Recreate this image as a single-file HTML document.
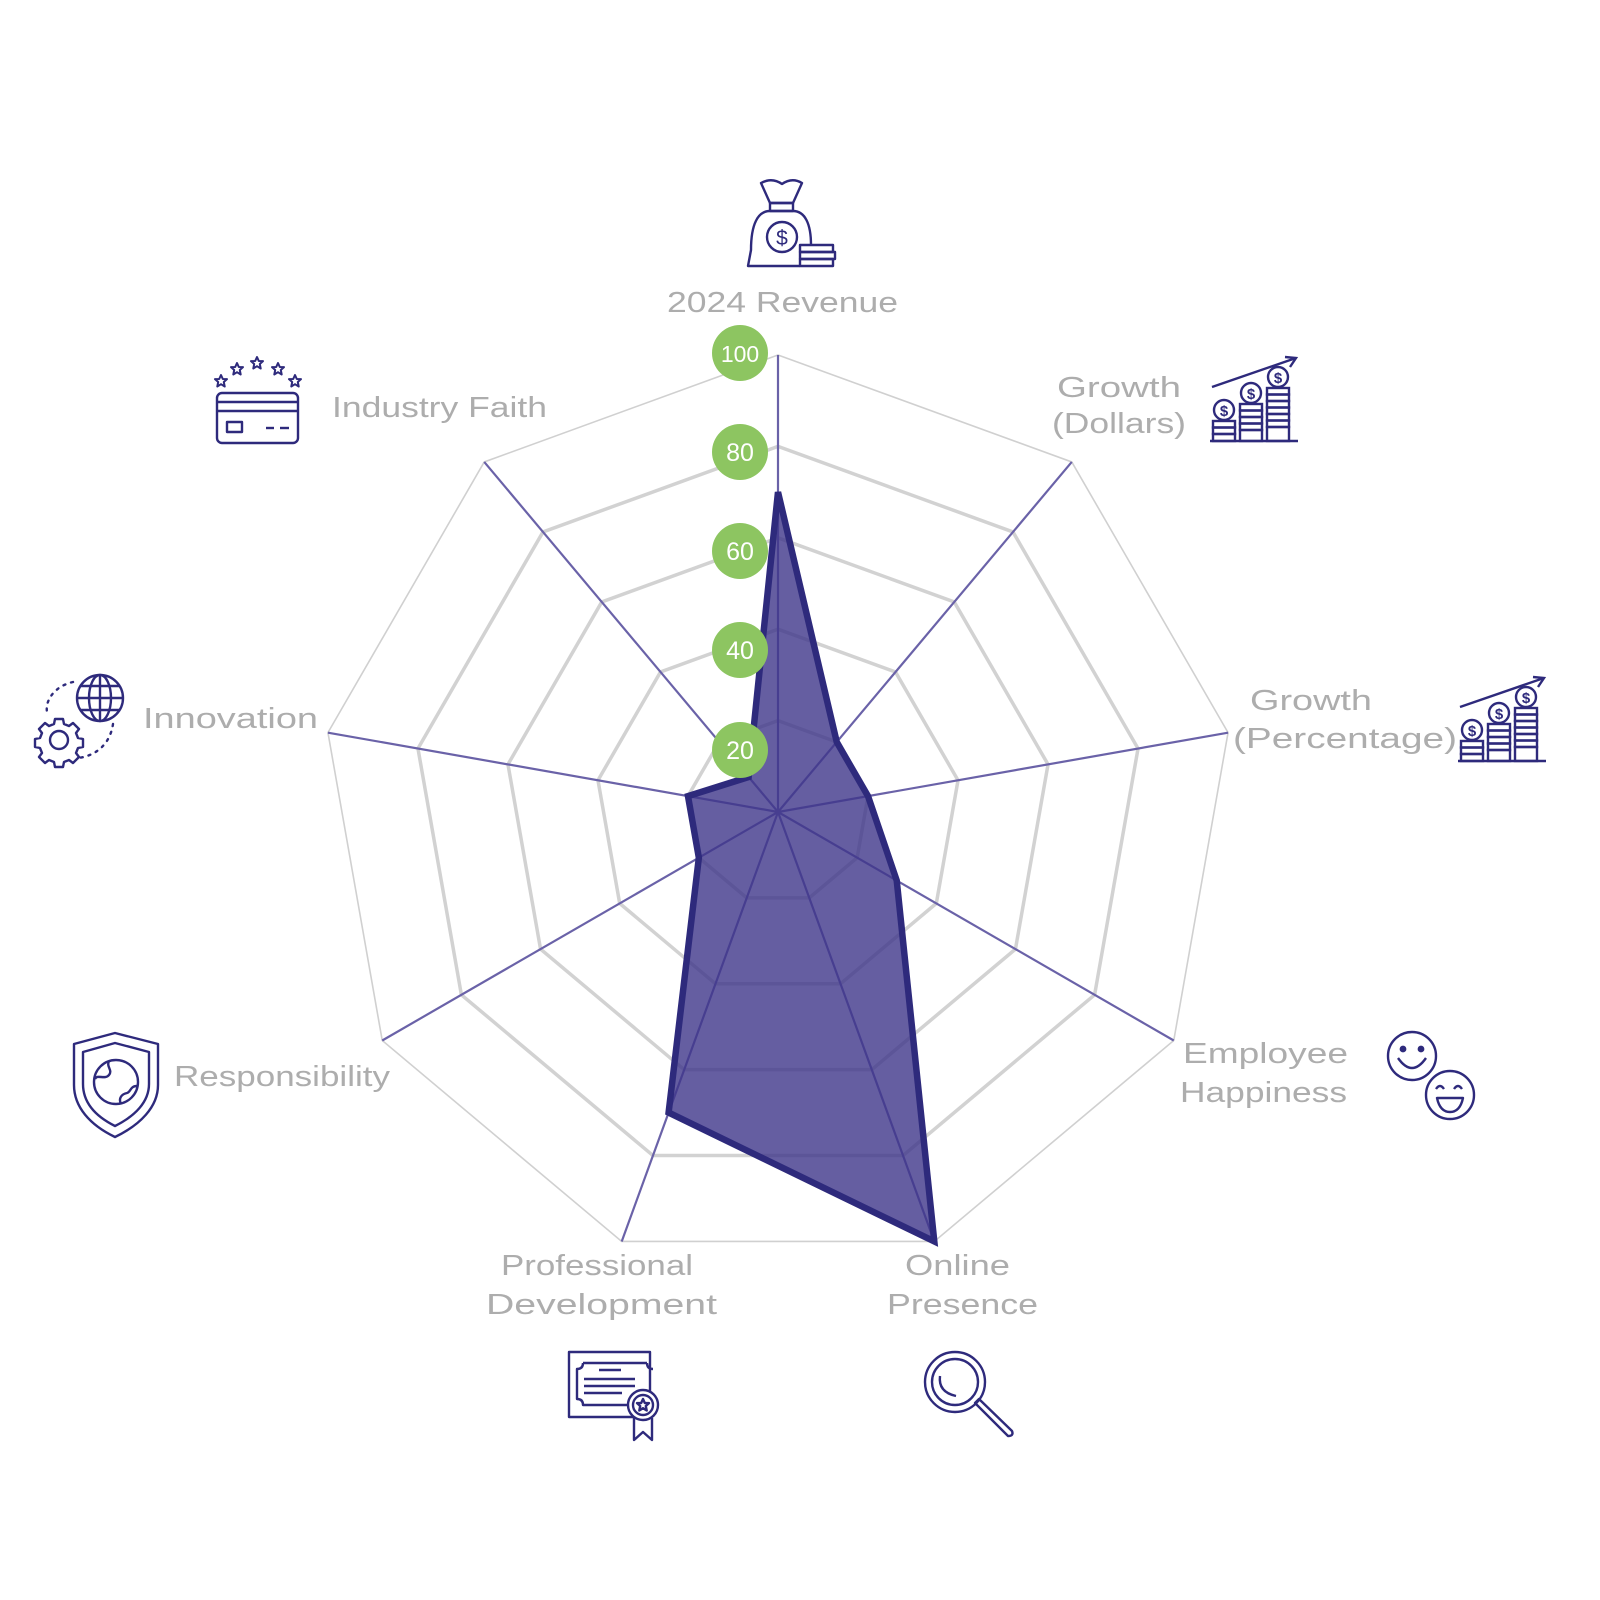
<!DOCTYPE html>
<html><head><meta charset="utf-8"><style>
html,body{margin:0;padding:0;background:#fff;}
svg{display:block;}
text{font-family:"Liberation Sans",sans-serif;}
</style></head><body>
<svg width="1600" height="1600" viewBox="0 0 1600 1600" xmlns="http://www.w3.org/2000/svg">
<defs>
<g id="gicon" fill="none" stroke="#2e2a7c" stroke-width="2.4">
  <line x1="1210" y1="441" x2="1298" y2="441"/>
  <rect x="1213" y="421" width="22" height="6.5"/><rect x="1213" y="427.5" width="22" height="6.5"/><rect x="1213" y="434" width="22" height="7"/>
  <circle cx="1224" cy="410" r="10"/>
  <rect x="1240" y="404" width="22" height="6.5"/><rect x="1240" y="410.5" width="22" height="6.5"/><rect x="1240" y="417" width="22" height="6.5"/><rect x="1240" y="423.5" width="22" height="6.5"/><rect x="1240" y="430" width="22" height="11"/>
  <circle cx="1251" cy="393" r="10"/>
  <rect x="1267" y="388" width="22" height="6.5"/><rect x="1267" y="394.5" width="22" height="6.5"/><rect x="1267" y="401" width="22" height="6.5"/><rect x="1267" y="407.5" width="22" height="6.5"/><rect x="1267" y="414" width="22" height="6.5"/><rect x="1267" y="420.5" width="22" height="6.5"/><rect x="1267" y="427" width="22" height="14"/>
  <circle cx="1278" cy="377" r="10"/>
  <line x1="1212" y1="387" x2="1296" y2="358"/>
  <polyline points="1285,357 1296,358 1290,367"/>
  <text x="1224" y="416" font-size="15" font-weight="bold" fill="#2e2a7c" stroke="none" text-anchor="middle">$</text>
  <text x="1251" y="399" font-size="15" font-weight="bold" fill="#2e2a7c" stroke="none" text-anchor="middle">$</text>
  <text x="1278" y="383" font-size="15" font-weight="bold" fill="#2e2a7c" stroke="none" text-anchor="middle">$</text>
</g>
</defs>

<!-- grid -->
<g transform="translate(778,812)" fill="none">
  <polygon points="0,-91.4 58.75,-70.01 90.01,-15.87 79.15,45.7 31.26,85.89 -31.26,85.89 -79.15,45.7 -90.01,-15.87 -58.75,-70.01" stroke="#d2d2d2" stroke-width="3.5"/>
  <polygon points="0,-182.8 117.5,-140.03 180.02,-31.73 158.31,91.4 62.52,171.78 -62.52,171.78 -158.31,91.4 -180.02,-31.73 -117.5,-140.03" stroke="#d2d2d2" stroke-width="3.5"/>
  <polygon points="0,-274.2 176.26,-210.04 270.03,-47.6 237.46,137.1 93.78,257.67 -93.78,257.67 -237.46,137.1 -270.03,-47.6 -176.26,-210.04" stroke="#d2d2d2" stroke-width="3.5"/>
  <polygon points="0,-365.6 235.01,-280.05 360.04,-63.47 316.61,182.8 125.04,343.55 -125.04,343.55 -316.61,182.8 -360.04,-63.47 -235.01,-280.05" stroke="#d2d2d2" stroke-width="3.5"/>
  <polygon points="0,-457 293.76,-350.06 450.05,-79.34 395.76,228.5 156.29,429.44 -156.29,429.44 -395.76,228.5 -450.05,-79.34 -293.76,-350.06" stroke="#d0d0d0" stroke-width="1.6"/>
  <!-- axes -->
  <g stroke="#6a62a8" stroke-width="2.2">
    <line x1="0" y1="0" x2="0" y2="-457"/><line x1="0" y1="0" x2="293.76" y2="-350.06"/>
    <line x1="0" y1="0" x2="450.05" y2="-79.34"/><line x1="0" y1="0" x2="395.76" y2="228.5"/>
    <line x1="0" y1="0" x2="156.29" y2="429.44"/><line x1="0" y1="0" x2="-156.29" y2="429.44"/>
    <line x1="0" y1="0" x2="-395.76" y2="228.5"/><line x1="0" y1="0" x2="-450.05" y2="-79.34"/>
    <line x1="0" y1="0" x2="-293.76" y2="-350.06"/>
  </g>
  <!-- data -->
  <polygon points="0,-319.9 58.75,-70.01 90.01,-15.87 118.73,68.55 156.29,429.44 -109.4,300.61 -79.15,45.7 -90.01,-15.87 -29.38,-35.01" fill="rgba(62,54,138,0.8)" stroke="#2e2a7c" stroke-width="6.5" stroke-linejoin="miter"/>
</g>

<!-- bubbles -->
<g font-size="25" fill="#fff" text-anchor="middle">
  <circle cx="740" cy="353" r="28" fill="#8dc561"/><text x="740" y="362" font-size="23">100</text>
  <circle cx="740" cy="452" r="28" fill="#8dc561"/><text x="740" y="461">80</text>
  <circle cx="740" cy="551" r="28" fill="#8dc561"/><text x="740" y="560">60</text>
  <circle cx="740" cy="650" r="28" fill="#8dc561"/><text x="740" y="659">40</text>
  <circle cx="740" cy="750" r="28" fill="#8dc561"/><text x="740" y="759">20</text>
</g>

<!-- labels -->
<g fill="#adadad" font-size="29">
  <text x="667" y="312" textLength="231" lengthAdjust="spacingAndGlyphs">2024 Revenue</text>
  <text x="332" y="417" textLength="215" lengthAdjust="spacingAndGlyphs">Industry Faith</text>
  <text x="1057" y="397" textLength="124" lengthAdjust="spacingAndGlyphs">Growth</text>
  <text x="1052" y="433" textLength="134" lengthAdjust="spacingAndGlyphs">(Dollars)</text>
  <text x="1250" y="710" textLength="122" lengthAdjust="spacingAndGlyphs">Growth</text>
  <text x="1233" y="748" textLength="224" lengthAdjust="spacingAndGlyphs">(Percentage)</text>
  <text x="143" y="728" textLength="175" lengthAdjust="spacingAndGlyphs">Innovation</text>
  <text x="1183" y="1063" textLength="165" lengthAdjust="spacingAndGlyphs">Employee</text>
  <text x="1180" y="1102" textLength="167" lengthAdjust="spacingAndGlyphs">Happiness</text>
  <text x="174" y="1086" textLength="216" lengthAdjust="spacingAndGlyphs">Responsibility</text>
  <text x="501" y="1275" textLength="192" lengthAdjust="spacingAndGlyphs">Professional</text>
  <text x="486" y="1314" textLength="231" lengthAdjust="spacingAndGlyphs">Development</text>
  <text x="905" y="1275" textLength="105" lengthAdjust="spacingAndGlyphs">Online</text>
  <text x="887" y="1314" textLength="151" lengthAdjust="spacingAndGlyphs">Presence</text>
</g>

<!-- icons -->
<g fill="none" stroke="#2e2a7c" stroke-width="2.4" stroke-linejoin="round">
  <path d="M761,183 Q772,177 782,184 Q792,177 802,183 L793,203 L770,203 Z"/>
  <rect x="770" y="203" width="23" height="8"/>
  <path d="M800,266 L748,266 L751,250 C751,224 758,211 770,211 L793,211 C805,211 811,224 811,245"/>
  <rect x="800" y="245" width="33" height="7"/><rect x="800" y="252" width="35" height="7"/><rect x="800" y="259" width="33" height="7"/>
  <circle cx="782" cy="237" r="15"/>
  <text x="782" y="245" font-size="21" fill="#2e2a7c" stroke="none" text-anchor="middle">$</text>
  <rect x="217" y="393" width="81" height="50" rx="5"/>
  <line x1="217" y1="402" x2="298" y2="402"/><line x1="217" y1="411" x2="298" y2="411"/>
  <rect x="227" y="422" width="15" height="10"/>
  <line x1="266" y1="428" x2="274" y2="428"/><line x1="280" y1="428" x2="289" y2="428"/>
  <g stroke-width="2">
  <polygon transform="translate(221,381)" points="0,-6 1.8,-2 6,-1.9 2.8,1 3.7,5.5 0,3.2 -3.7,5.5 -2.8,1 -6,-1.9 -1.8,-2"/>
  <polygon transform="translate(237,369)" points="0,-6 1.8,-2 6,-1.9 2.8,1 3.7,5.5 0,3.2 -3.7,5.5 -2.8,1 -6,-1.9 -1.8,-2"/>
  <polygon transform="translate(257,363)" points="0,-6 1.8,-2 6,-1.9 2.8,1 3.7,5.5 0,3.2 -3.7,5.5 -2.8,1 -6,-1.9 -1.8,-2"/>
  <polygon transform="translate(278,369)" points="0,-6 1.8,-2 6,-1.9 2.8,1 3.7,5.5 0,3.2 -3.7,5.5 -2.8,1 -6,-1.9 -1.8,-2"/>
  <polygon transform="translate(295,381)" points="0,-6 1.8,-2 6,-1.9 2.8,1 3.7,5.5 0,3.2 -3.7,5.5 -2.8,1 -6,-1.9 -1.8,-2"/>
  </g>
  <circle cx="100" cy="698" r="23"/>
  <ellipse cx="100" cy="698" rx="11" ry="23"/>
  <line x1="100" y1="675" x2="100" y2="721"/>
  <line x1="77" y1="698" x2="123" y2="698"/>
  <line x1="81" y1="686" x2="119" y2="686"/><line x1="81" y1="710" x2="119" y2="710"/>
  <circle cx="59" cy="740" r="9"/>
  <path d="M55,719 h8 l1,5 l5,2 l4,-3 l6,6 l-3,4 l2,5 l5,1 v8 l-5,1 l-2,5 l3,4 l-6,6 l-4,-3 l-5,2 l-1,5 h-8 l-1,-5 l-5,-2 l-4,3 l-6,-6 l3,-4 l-2,-5 l-5,-1 v-8 l5,-1 l2,-5 l-3,-4 l6,-6 l4,3 l5,-2 z"/>
  <path d="M73,682 C55,686 45,700 47,712" stroke-dasharray="2 6" stroke-linecap="round"/>
  <path d="M113,724 C110,745 95,756 78,758" stroke-dasharray="2 6" stroke-linecap="round"/>
  <circle cx="1412" cy="1056" r="24"/>
  <circle cx="1403" cy="1049" r="2.2" fill="#2e2a7c"/><circle cx="1421" cy="1049" r="2.2" fill="#2e2a7c"/>
  <path d="M1398,1058 Q1412,1078 1426,1058"/>
  <circle cx="1450" cy="1095" r="24"/>
  <path d="M1436,1089 q4,-6 8,0 M1454,1089 q4,-6 8,0"/>
  <path d="M1437,1098 L1463,1098 Q1460,1112 1450,1112 Q1440,1112 1437,1098 Z"/>
  <path d="M115,1033 L158,1044 L158,1085 C158,1107 140,1125 115,1137 C90,1125 74,1107 74,1085 L74,1044 Z"/>
  <path d="M115,1043 L149,1052 L149,1084 C149,1102 135,1116 115,1126 C95,1116 83,1102 83,1084 L83,1052 Z"/>
  <circle cx="116" cy="1082" r="22"/>
  <path d="M109,1061 c-3,6 4,9 0,14 c-4,5 -12,-1 -14,4 M121,1104 c-3,-6 1,-10 6,-11 c4,-1 3,-7 10,-7"/>
  <rect x="569" y="1352" width="81" height="65"/>
  <path d="M583,1363 h64 M583,1363 q0,6 -6,6 v30 q6,0 6,6 h52"/>
  <path d="M647,1363 q0,6 6,6"/>
  <line x1="599" y1="1370" x2="621" y2="1370"/>
  <line x1="584" y1="1379" x2="635" y2="1379"/><line x1="584" y1="1386" x2="635" y2="1386"/><line x1="584" y1="1393" x2="622" y2="1393"/>
  <circle cx="643" cy="1405" r="15" fill="#fff"/><circle cx="643" cy="1405" r="10"/>
  <polygon transform="translate(643,1405)" points="0,-6 1.8,-2 6,-1.9 2.8,1 3.7,5.5 0,3.2 -3.7,5.5 -2.8,1 -6,-1.9 -1.8,-2"/>
  <path d="M634,1418 v22 l9,-8 l9,8 v-22"/>
  <circle cx="955" cy="1382" r="30"/>
  <circle cx="955" cy="1382" r="23"/>
  <path d="M940,1376 q-2,16 16,20"/>
  <path d="M975,1403 L979,1399 L1012,1431 Q1014,1436 1008,1436 L975,1403 Z"/>
</g>
<use href="#gicon"/>
<use href="#gicon" transform="translate(248,320)"/>
</svg>
</body></html>
